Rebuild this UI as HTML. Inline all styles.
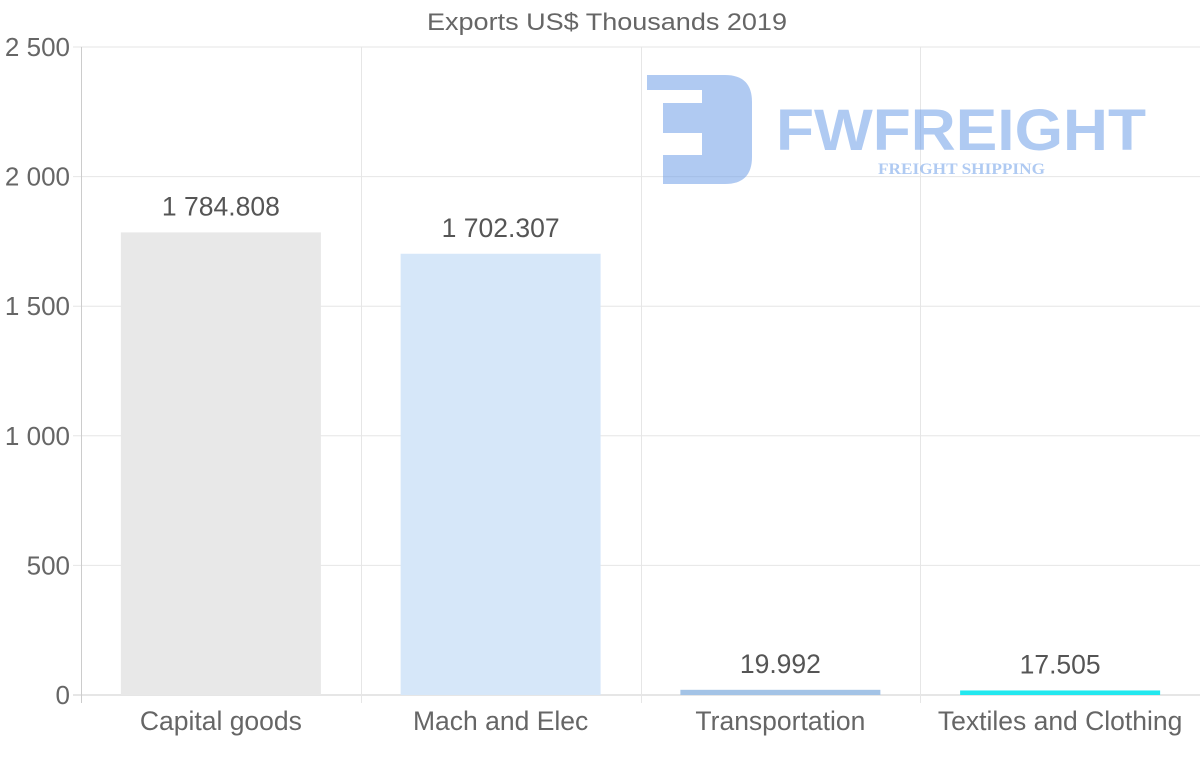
<!DOCTYPE html>
<html><head><meta charset="utf-8"><style>
html,body{margin:0;padding:0;background:#fff;}
svg{display:block;font-family:"Liberation Sans",Arial,sans-serif;}
</style></head><body>
<svg id="chart" width="1200" height="763" viewBox="0 0 1200 763">
<text x="607" y="30" text-anchor="middle" font-size="24" fill="#666" textLength="360" lengthAdjust="spacingAndGlyphs">Exports US$ Thousands 2019</text>
<g id="grid"></g>
<g id="watermark" opacity="0.55">
 <path d="M647 75 H725 Q752 75 752 102 V157 Q752 184 725 184 H663 V155 H702 V133 H663 V103 H702 V90 H647 Z" fill="#6f9fe8"/>
 <text x="776" y="150" font-size="58" font-weight="bold" fill="#6f9fe8" textLength="370" lengthAdjust="spacingAndGlyphs">FWFREIGHT</text>
 <text x="878" y="174" font-size="16" font-weight="bold" font-family="Liberation Serif,serif" fill="#6f9fe8" textLength="167" lengthAdjust="spacingAndGlyphs">FREIGHT SHIPPING</text>
</g>
<g id="bars"></g>
<g id="labels"></g>
</svg>
<script>
const categories=["Capital goods","Mach and Elec","Transportation","Textiles and Clothing"];
const values=[1784.808,1702.307,19.992,17.505];
const valueLabels=["1 784.808","1 702.307","19.992","17.505"];
const colors=["#e8e8e8","#d6e7f9","#a3c3e6","#22e8ef"];
const yTicks=[0,500,1000,1500,2000,2500];
const yTickLabels=["0","500","1 000","1 500","2 000","2 500"];
const NS="http://www.w3.org/2000/svg";
const x0=81,x1=1200,y0=695,y1=47,yMax=2500;
const band=(x1-x0)/categories.length;
const y=v=>y0-(v/yMax)*(y0-y1);
const xc=i=>x0+band*(i+0.5);
function mk(tag,attrs,parent){const e=document.createElementNS(NS,tag);for(const k in attrs)e.setAttribute(k,attrs[k]);document.getElementById(parent).appendChild(e);return e;}
yTicks.forEach((t,i)=>{
 const l=mk('line',{x1:73,x2:x1,y1:y(t),y2:y(t),stroke:i==0?'#ccc':'#e6e6e6','stroke-width':1},'grid');
 
 
 const tx=mk('text',{x:70,y:y(t)+9,'text-anchor':'end','font-size':26,fill:'#666'},'grid');
 tx.textContent=yTickLabels[i];
 
 
});
for(let i=0;i<=categories.length;i++){
 const gx=Math.round(x0+band*i)+0.5;
 const l=mk('line',{x1:gx,x2:gx,y1:y1,y2:703,stroke:i==0?'#ccc':'#e6e6e6','stroke-width':1},'grid');
 
 
}
categories.forEach((c,i)=>{
 const bw=200;
 const r=mk('rect',{x:xc(i)-bw/2,y:y(values[i]),width:bw,height:y0-y(values[i]),fill:colors[i]},'bars');
 
 
 const v=mk('text',{x:xc(i),y:y(values[i])-17,'text-anchor':'middle','font-size':26.5,fill:'#555'},'labels');
 v.textContent=valueLabels[i];
 
 
 const t=mk('text',{x:xc(i),y:730,'text-anchor':'middle','font-size':26.5,fill:'#666'},'labels');
 t.textContent=c;
 
 
});
</script>
</body></html>
